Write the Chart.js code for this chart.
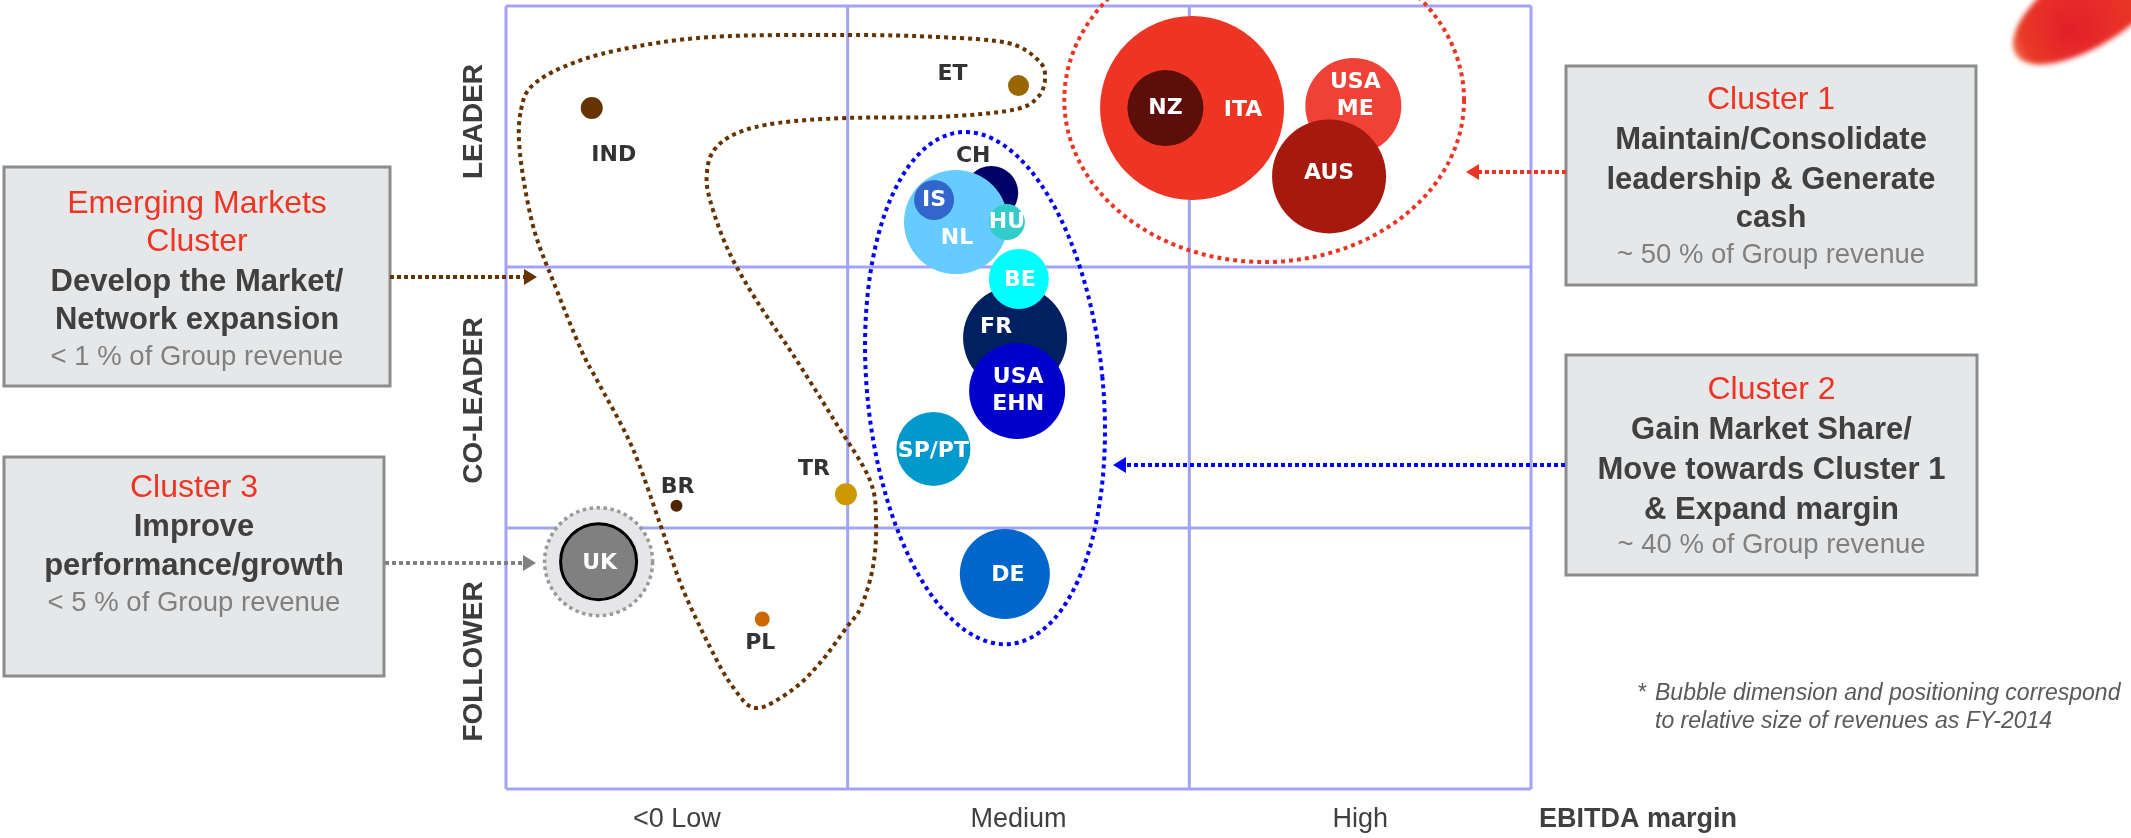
<!DOCTYPE html>
<html>
<head>
<meta charset="utf-8">
<script src="https://cdn.jsdelivr.net/npm/chart.js@4.4.1/dist/chart.umd.min.js"></script>
<style>
  html, body { margin: 0; padding: 0; background: #fff; }
  canvas { display: block; }
</style>
</head>
<body>
<canvas id="chart" width="2131" height="838"></canvas>
<script>
// --- data ---
const countries = ['IND', 'ET', 'ITA', 'NZ', 'USA\nME', 'AUS', 'CH', 'NL', 'IS', 'HU', 'FR', 'BE', 'USA\nEHN', 'SP/PT', 'DE', 'TR', 'BR', 'UK', 'PL'];
// x: EBITDA margin (0-1 low, 1-2 medium, 2-3 high)
const ebitda = [0.251, 1.500, 2.008, 1.930, 2.480, 2.409, 1.420, 1.317, 1.253, 1.466, 1.490, 1.501, 1.496, 1.251, 1.460, 0.995, 0.499, 0.271, 0.750];
// y: market position (0-1 follower, 1-2 co-leader, 2-3 leader)
const position = [2.609, 2.695, 2.609, 2.609, 2.617, 2.347, 2.284, 2.172, 2.257, 2.172, 1.728, 1.954, 1.525, 1.303, 0.824, 1.129, 1.085, 0.871, 0.651];
// relative revenue (bubble radius)
const revenue = [11, 10.5, 92, 38, 48, 57, 27, 52, 20, 18, 52, 30, 48, 37, 45, 11, 6, 38, 7.5];

const xLabels = ['<0 Low', 'Medium', 'High'];
const yLabels = ['FOLLOWER', 'CO-LEADER', 'LEADER'];

// emerging markets cluster outline, in chart units
const emergingOutline = [
  [0.044, 2.602], [0.073, 2.690], [0.167, 2.766], [0.328, 2.831], [0.597, 2.881], [0.998, 2.889],
  [1.267, 2.881], [1.469, 2.858], [1.557, 2.793], [1.578, 2.728], [1.557, 2.651], [1.484, 2.602],
  [1.267, 2.575], [0.998, 2.571], [0.796, 2.552], [0.676, 2.513], [0.609, 2.448], [0.588, 2.360],
  [0.597, 2.257], [0.650, 2.065], [0.732, 1.874], [0.837, 1.670], [0.960, 1.414], [1.065, 1.184],
  [1.083, 1.019], [1.074, 0.851], [1.039, 0.697], [0.998, 0.621], [0.919, 0.483], [0.837, 0.379],
  [0.732, 0.310], [0.664, 0.391], [0.597, 0.544], [0.515, 0.774], [0.454, 1.004], [0.369, 1.310],
  [0.266, 1.567], [0.220, 1.682], [0.140, 1.939], [0.085, 2.130], [0.053, 2.322], [0.038, 2.487]
];
// cluster 1 and 2 ellipses: centre x, centre y, half width, half height (chart units)
const cluster1 = [2.219, 2.640, 0.585, 0.621];
const cluster2 = [1.402, 1.536, 0.345, 0.985];

// --- styling ---
const colors = ['#663300', '#996600', '#ee3524', '#5c0f0a', '#ef4136', '#a6190f', '#000066', '#66ccff', '#3366cc', '#33cccc',
  '#002060', '#00ffff', '#0000cc', '#0099cc', '#0066cc', '#cc9900', '#4d2600', '#808080', '#cc6600'];
const darkLabel = ['IND', 'ET', 'CH', 'TR', 'BR', 'PL'];
const labelOffsets = [[22, 47], [-66, -11], [51, 2], [0, 0], [2, -10], [0, -3], [-18, -37], [1, 16], [0, 0], [0, 0],
  [-19, -11], [1, 1], [1, 0], [0, 2], [3, 1], [-32, -25], [1, -19], [1, 2], [-2, 24]];
const yLabelShift = [3, 3, -15];

const boxes = [
  { x: 4, y: 167, w: 386, h: 219, lines: [
    ['Emerging Markets', 'red', 204], ['Cluster', 'red', 242], ['Develop the Market/', 'bold', 282],
    ['Network expansion', 'bold', 320], ['< 1 % of Group revenue', 'note', 357]] },
  { x: 4, y: 457, w: 380, h: 219, lines: [
    ['Cluster 3', 'red', 488], ['Improve', 'bold', 527], ['performance/growth', 'bold', 566],
    ['< 5 % of Group revenue', 'note', 603]] },
  { x: 1566, y: 66, w: 410, h: 219, lines: [
    ['Cluster 1', 'red', 100], ['Maintain/Consolidate', 'bold', 140], ['leadership & Generate', 'bold', 180],
    ['cash', 'bold', 218], ['~ 50 % of Group revenue', 'note', 255]] },
  { x: 1566, y: 355, w: 411, h: 220, lines: [
    ['Cluster 2', 'red', 390], ['Gain Market Share/', 'bold', 430], ['Move towards Cluster 1', 'bold', 470],
    ['& Expand margin', 'bold', 510], ['~ 40 % of Group revenue', 'note', 545]] }
];
const arrows = [
  { x1: 390, x2: 537, y: 277, color: '#663300' },
  { x1: 385, x2: 536, y: 563, color: '#808080' },
  { x1: 1566, x2: 1466, y: 172, color: '#ee3524' },
  { x1: 1565, x2: 1113, y: 465, color: '#0000ff' }
];
const lineStyles = {
  red: ['32px "Liberation Sans", Arial, sans-serif', '#ee3524'],
  bold: ['bold 31px "Liberation Sans", Arial, sans-serif', '#404040'],
  note: ['27.5px "Liberation Sans", Arial, sans-serif', '#808080']
};

function smoothClosed(ctx, pts) {
  const n = pts.length;
  ctx.moveTo(pts[0][0], pts[0][1]);
  for (let i = 0; i < n; i++) {
    const p0 = pts[(i - 1 + n) % n], p1 = pts[i], p2 = pts[(i + 1) % n], p3 = pts[(i + 2) % n];
    ctx.bezierCurveTo(
      p1[0] + (p2[0] - p0[0]) / 6, p1[1] + (p2[1] - p0[1]) / 6,
      p2[0] - (p3[0] - p1[0]) / 6, p2[1] - (p3[1] - p1[1]) / 6,
      p2[0], p2[1]);
  }
  ctx.closePath();
}

function dottedArrow(ctx, a) {
  const dir = a.x2 > a.x1 ? 1 : -1;
  ctx.save();
  ctx.strokeStyle = a.color; ctx.fillStyle = a.color;
  ctx.lineWidth = 4; ctx.setLineDash([4, 3]);
  ctx.beginPath(); ctx.moveTo(a.x1, a.y); ctx.lineTo(a.x2 - dir * 12, a.y); ctx.stroke();
  ctx.beginPath();
  ctx.moveTo(a.x2, a.y); ctx.lineTo(a.x2 - dir * 13, a.y - 8); ctx.lineTo(a.x2 - dir * 13, a.y + 8);
  ctx.closePath(); ctx.fill();
  ctx.restore();
}

const overlay = {
  id: 'overlay',
  beforeDatasetsDraw(chart) {
    const { ctx, scales: { x, y } } = chart;
    ctx.save();
    // quadrant grid
    ctx.strokeStyle = '#a3a3f5'; ctx.lineWidth = 3;
    for (let i = 0; i <= 3; i++) {
      const px = x.getPixelForValue(i), py = y.getPixelForValue(i);
      ctx.beginPath(); ctx.moveTo(px, y.getPixelForValue(0)); ctx.lineTo(px, y.getPixelForValue(3)); ctx.stroke();
      ctx.beginPath(); ctx.moveTo(x.getPixelForValue(0), py); ctx.lineTo(x.getPixelForValue(3), py); ctx.stroke();
    }
    // UK halo (cluster 3)
    const u = countries.indexOf('UK');
    ctx.beginPath();
    ctx.arc(x.getPixelForValue(ebitda[u]), y.getPixelForValue(position[u]), revenue[u] + 16, 0, Math.PI * 2);
    ctx.fillStyle = '#e6e6e8'; ctx.fill();
    ctx.setLineDash([3.5, 3.5]); ctx.lineWidth = 3.5; ctx.strokeStyle = '#999999'; ctx.stroke();
    ctx.restore();
  },
  afterDatasetsDraw(chart) {
    const { ctx, scales: { x, y } } = chart;
    ctx.save();
    // bubble labels
    ctx.textAlign = 'center'; ctx.textBaseline = 'middle';
    ctx.font = 'bold 22px "DejaVu Sans", Verdana, sans-serif';
    countries.forEach((c, i) => {
      const px = x.getPixelForValue(ebitda[i]) + labelOffsets[i][0];
      const py = y.getPixelForValue(position[i]) + labelOffsets[i][1];
      ctx.fillStyle = darkLabel.includes(c) ? '#333333' : '#ffffff';
      const parts = c.split('\n');
      parts.forEach((t, k) => ctx.fillText(t, px, py + (k - (parts.length - 1) / 2) * 27));
    });

    // cluster outlines
    const px = v => x.getPixelForValue(v), py = v => y.getPixelForValue(v);
    ctx.lineWidth = 4; ctx.setLineDash([4, 4]);
    ctx.strokeStyle = '#ee3524';
    ctx.beginPath();
    ctx.ellipse(px(cluster1[0]), py(cluster1[1]), px(cluster1[2]) - px(0), py(0) - py(cluster1[3]), 0, 0, Math.PI * 2);
    ctx.stroke();
    ctx.strokeStyle = '#0000ff';
    ctx.beginPath();
    ctx.ellipse(px(cluster2[0]), py(cluster2[1]), px(cluster2[2]) - px(0), py(0) - py(cluster2[3]), -0.098, 0, Math.PI * 2);
    ctx.stroke();
    ctx.strokeStyle = '#663300';
    ctx.beginPath();
    smoothClosed(ctx, emergingOutline.map(p => [px(p[0]), py(p[1])]));
    ctx.stroke();
    ctx.setLineDash([]);

    // axis category labels
    ctx.fillStyle = '#404040';
    ctx.font = '27px "Liberation Sans", Arial, sans-serif';
    xLabels.forEach((t, i) => ctx.fillText(t, px(i + 0.5), 820));
    ctx.font = 'bold 27px "Liberation Sans", Arial, sans-serif';
    ctx.fillText('EBITDA margin', 1638, 820);
    ctx.fillStyle = '#3c3c3c';
    ctx.font = 'bold 28px "Liberation Sans", Arial, sans-serif';
    yLabels.forEach((t, i) => {
      ctx.save();
      ctx.translate(474, py(i + 0.5) + yLabelShift[i]);
      ctx.rotate(-Math.PI / 2);
      ctx.fillText(t, 0, 0);
      ctx.restore();
    });
    ctx.restore();
  },
  afterDraw(chart) {
    const ctx = chart.ctx;
    ctx.save();
    // boxes
    boxes.forEach(b => {
      ctx.fillStyle = '#e6e7e8';
      ctx.fillRect(b.x, b.y, b.w, b.h);
      ctx.strokeStyle = '#8c8c8c'; ctx.lineWidth = 3;
      ctx.strokeRect(b.x, b.y, b.w, b.h);
      ctx.textAlign = 'center'; ctx.textBaseline = 'middle';
      b.lines.forEach(([t, s, ly]) => {
        ctx.font = lineStyles[s][0]; ctx.fillStyle = lineStyles[s][1];
        ctx.fillText(t, b.x + b.w / 2, ly);
      });
    });
    arrows.forEach(a => dottedArrow(ctx, a));

    // footnote
    ctx.fillStyle = '#595959';
    ctx.textAlign = 'left'; ctx.textBaseline = 'middle';
    ctx.font = 'italic 23px "Liberation Sans", Arial, sans-serif';
    ctx.fillText('*', 1637, 694);
    ctx.fillText('Bubble dimension and positioning correspond', 1655, 694);
    ctx.fillText('to relative size of revenues as FY-2014', 1655, 722);

    // logo fragment top right
    ctx.filter = 'blur(2.5px)';
    const g = ctx.createRadialGradient(2070, 30, 5, 2090, 15, 100);
    g.addColorStop(0, '#e3202a');
    g.addColorStop(0.6, '#ea3a26');
    g.addColorStop(1, '#f6a070');
    ctx.fillStyle = g;
    ctx.beginPath();
    ctx.ellipse(2095, 2, 95, 40, -0.59, 0, Math.PI * 2);
    ctx.fill();
    ctx.filter = 'none';
    ctx.restore();
  }
};

new Chart(document.getElementById('chart'), {
  type: 'bubble',
  data: {
    datasets: [{
      data: countries.map((c, i) => ({ x: ebitda[i], y: position[i], r: revenue[i] })),
      backgroundColor: colors,
      borderColor: countries.map(c => c === 'UK' ? '#000000' : 'rgba(0,0,0,0)'),
      borderWidth: countries.map(c => c === 'UK' ? 3 : 0),
      hoverRadius: 0,
      clip: false
    }]
  },
  options: {
    responsive: false,
    animation: false,
    devicePixelRatio: 1,
    layout: { autoPadding: false, padding: { left: 506, right: 600, top: 6, bottom: 49 } },
    scales: {
      x: { type: 'linear', min: 0, max: 3, display: false },
      y: { type: 'linear', min: 0, max: 3, display: false }
    },
    plugins: { legend: { display: false }, tooltip: { enabled: false } },
    events: []
  },
  plugins: [overlay]
});
</script>
</body>
</html>
